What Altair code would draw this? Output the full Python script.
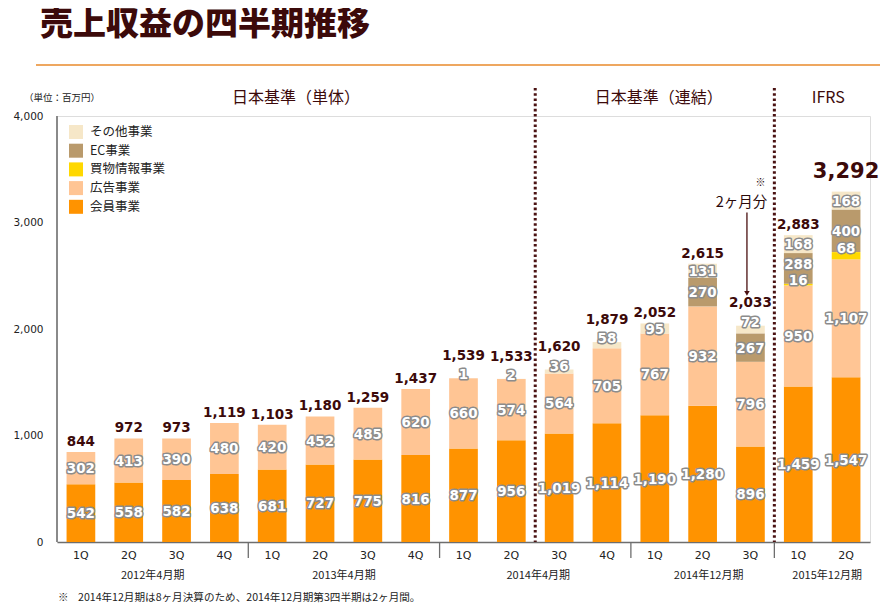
import altair as alt
import pandas as pd

# ---- data ----
periods = ["2012年4月期"] * 4 + ["2013年4月期"] * 4 + ["2014年4月期"] * 4 + ["2014年12月期"] * 3 + ["2015年12月期"] * 2
quarters = ["1Q", "2Q", "3Q", "4Q", "1Q", "2Q", "3Q", "4Q", "1Q", "2Q", "3Q", "4Q", "1Q", "2Q", "3Q", "1Q", "2Q"]
kaiin = [542, 558, 582, 638, 681, 727, 775, 816, 877, 956, 1019, 1114, 1190, 1280, 896, 1459, 1547]
koukoku = [302, 413, 390, 480, 420, 452, 485, 620, 660, 574, 564, 705, 767, 932, 796, 950, 1107]
kaimono = [0] * 15 + [16, 68]
ec = [0] * 13 + [270, 267, 288, 400]
sonota = [0] * 8 + [1, 2, 36, 58, 95, 131, 72, 168, 168]
totals = [844, 972, 973, 1119, 1103, 1180, 1259, 1437, 1539, 1533, 1620, 1879, 2052, 2615, 2033, 2883, 3292]
y_ticks = [0, 1000, 2000, 3000, 4000]

biz_names = ["会員事業", "広告事業", "買物情報事業", "EC事業", "その他事業"]
biz_colors = ["#ff9300", "#ffc594", "#ffd800", "#b99a6c", "#f6e7c8"]
legend_order = ["その他事業", "EC事業", "買物情報事業", "広告事業", "会員事業"]

sections = ["日本基準（単体）", "日本基準（連結）", "IFRS"]
period_names = ["2012年4月期", "2013年4月期", "2014年4月期", "2014年12月期", "2015年12月期"]
note_text = "2014年12月期は8ヶ月決算のため、2014年12月期第3四半期は2ヶ月間。"

cats = [f"{p}|{q}" for p, q in zip(periods, quarters)]

W, H = 813, 426
STEP = W / len(cats)
PX = 4000 / H  # data units per pixel
DARK = "#3c0a0a"
NUM_FONT = "DejaVu Sans"
JP_FONT = "Noto Sans CJK JP"

# ---- derived tables ----
rows = []
series = [kaiin, koukoku, kaimono, ec, sonota]
for i, c in enumerate(cats):
    base = 0
    prev_lab = -1e9
    for k, name in enumerate(biz_names):
        v = series[k][i]
        if v > 0:
            want = base + v + 4 * PX if v < 80 else base + v / 2
            lab = max(want, prev_lab + 16 * PX)
            prev_lab = lab
            rows.append({"cat": c, "biz": name, "ord": k, "v": v, "y0": base, "y1": base + v, "lab": lab})
        base += v
seg = pd.DataFrame(rows)

tot_rows = []
for i, c in enumerate(cats):
    if i == len(cats) - 1:
        grp = "big"
    elif 0 < sonota[i] < 80:
        grp = "lifted"
    else:
        grp = "normal"
    tot_rows.append({"cat": c, "total": totals[i], "grp": grp})
tot = pd.DataFrame(tot_rows)

x_scale = alt.Scale(domain=cats, paddingInner=0.4, paddingOuter=0.2)
x_axis = alt.Axis(labelExpr="split(datum.label, '|')[1]", labelAngle=0, ticks=False,
                  domainColor="#6e6e6e", domainWidth=1.3, labelPadding=7, labelFontSize=11,
                  labelFont=NUM_FONT, labelColor="#222", title=None)
X = alt.X("cat:N", scale=x_scale, axis=x_axis, title=None)
y_scale = alt.Scale(domain=[0, 4000], nice=False)
Y_axis = alt.Axis(values=y_ticks, labelExpr="format(datum.value, ',')", ticks=False, grid=False,
                  domain=False, labelPadding=14, labelFontSize=10.5,
                  labelFont=NUM_FONT, labelColor="#222", title=None)


def Yv(f):
    return alt.Y(f, scale=y_scale, axis=Y_axis, title=None)


bars = alt.Chart(seg).mark_bar().encode(
    x=X,
    y=Yv("y1:Q"),
    y2="y0:Q",
    color=alt.Color("biz:N", scale=alt.Scale(domain=legend_order,
                                             range=[biz_colors[biz_names.index(n)] for n in legend_order]),
                    legend=alt.Legend(orient="none", legendX=12, legendY=9, title=None,
                                      symbolType="square", symbolSize=196, symbolStrokeWidth=0,
                                      labelFontSize=12.5, labelFont=JP_FONT, labelColor="#222",
                                      rowPadding=4.7, labelOffset=7, padding=0)),
)

one = pd.DataFrame({"k": [0]})
y_domain = alt.Chart(one).mark_rule(color="#8a8a8a", strokeWidth=2).encode(
    x=alt.value(0), y=alt.value(0), y2=alt.value(H))

lab_out = alt.Chart(seg).mark_text(font=NUM_FONT, fontWeight="bold", fontSize=13.5, baseline="middle",
                                   dy=1, stroke="#8c8c8c", strokeWidth=3, strokeJoin="round",
                                   fill="#8c8c8c").encode(
    x=X, y=Yv("lab:Q"), text=alt.Text("v:Q", format=","))
lab_in = alt.Chart(seg).mark_text(font=NUM_FONT, fontWeight="bold", fontSize=13.5, baseline="middle",
                                  dy=1, fill="white").encode(
    x=X, y=Yv("lab:Q"), text=alt.Text("v:Q", format=","))


def tot_layer(g, size, dy):
    return alt.Chart(tot[tot["grp"] == g]).mark_text(font=NUM_FONT, fontWeight="bold", fontSize=size,
                                                     baseline="middle", dy=dy, color=DARK).encode(
        x=X, y=Yv("total:Q"), text=alt.Text("total:Q", format=","))


tot_norm = tot_layer("normal", 13.5, -10)
tot_lift = tot_layer("lifted", 13.5, -22)
tot_big = tot_layer("big", 21, -19)

# dotted separators between accounting standards
dots = []
for c in ["2014年4月期|3Q", "2015年12月期|1Q"]:
    dots.append(alt.Chart(pd.DataFrame({"cat": [c]})).mark_rule(
        xOffset=-STEP / 2, color="#4a1212", strokeWidth=3, strokeDash=[2.6, 2.6]).encode(
        x=X, y=alt.value(-28), y2=alt.value(H)))

# period separator ticks below axis
seps = []
for c in ["2013年4月期|1Q", "2014年4月期|1Q", "2014年12月期|1Q", "2015年12月期|1Q"]:
    seps.append(alt.Chart(pd.DataFrame({"cat": [c]})).mark_rule(
        xOffset=-STEP / 2, color="#6e6e6e", strokeWidth=1.3).encode(
        x=X, y=alt.value(H), y2=alt.value(H + 16)))

# period labels
per_layers = []
for name, anchor, off in zip(period_names,
                             ["2012年4月期|2Q", "2013年4月期|2Q", "2014年4月期|2Q", "2014年12月期|2Q", "2015年12月期|1Q"],
                             [STEP / 2, STEP / 2, STEP / 2 + 3, 6, STEP / 2 + 5]):
    per_layers.append(alt.Chart(pd.DataFrame({"cat": [anchor], "t": [name]})).mark_text(
        font=JP_FONT, fontSize=11, color="#222", baseline="middle", xOffset=off).encode(
        x=X, y=alt.value(H + 34), text="t:N"))

# section headers
sec_layers = []
for name, anchor, off in zip(sections, ["2013年4月期|1Q", "2014年12月期|1Q", "2015年12月期|1Q"],
                             [STEP / 2, 4, STEP / 2 + 6]):
    sec_layers.append(alt.Chart(pd.DataFrame({"cat": [anchor], "t": [name]})).mark_text(
        font=JP_FONT, fontSize=16, color=DARK, baseline="middle", xOffset=off).encode(
        x=X, y=alt.value(-18), text="t:N"))

# annotation "2ヶ月分" with arrow
ann_cat = "2014年12月期|3Q"
ann_df = pd.DataFrame({"cat": [ann_cat]})
ann_text = alt.Chart(pd.DataFrame({"cat": [ann_cat], "t": ["2ヶ月分"]})).mark_text(
    font=JP_FONT, fontSize=14.5, color="#2a0a0a", baseline="middle", xOffset=-9).encode(
    x=X, y=Yv("v:Q"), text="t:N").transform_calculate(v="3183")
ann_mark = alt.Chart(pd.DataFrame({"cat": [ann_cat], "t": ["※"]})).mark_text(
    font=JP_FONT, fontSize=10, color="#2a0a0a", baseline="middle", xOffset=10).encode(
    x=X, y=Yv("v:Q"), text="t:N").transform_calculate(v="3370")
arrow = alt.Chart(ann_df).mark_rule(color="#4a1010", strokeWidth=1.3, xOffset=-3.5).encode(
    x=X, y=Yv("a:Q"), y2="b:Q").transform_calculate(a="3095", b="2330")
arrow_head = alt.Chart(ann_df).mark_point(shape="triangle-down", filled=True, size=30, color="#4a1010",
                                          opacity=1, xOffset=-3.5).encode(
    x=X, y=Yv("b:Q")).transform_calculate(b="2335")

title = alt.Chart(one).mark_text(text="売上収益の四半期推移", font=JP_FONT, fontSize=33, fontWeight=900,
                                 color=DARK, align="left", baseline="middle").encode(
    x=alt.value(-17), y=alt.value(-91))
orange_line = alt.Chart(one).mark_rule(color="#e98a2b", strokeWidth=1.5).encode(
    x=alt.value(-21), x2=alt.value(823), y=alt.value(-51))
unit = alt.Chart(one).mark_text(text="（単位：百万円）", font=JP_FONT, fontSize=9.5, color="#222",
                                align="left", baseline="middle").encode(
    x=alt.value(-33), y=alt.value(-18))
note_mark = alt.Chart(one).mark_text(text="※", font=JP_FONT, fontSize=10.5, color="#222",
                                     align="left", baseline="middle").encode(
    x=alt.value(1), y=alt.value(H + 56))
note = alt.Chart(one).mark_text(text=note_text, font=JP_FONT, fontSize=10.6, color="#222",
                                align="left", baseline="middle").encode(
    x=alt.value(21), y=alt.value(H + 56))

chart = alt.layer(
    bars, y_domain, *dots, *seps, lab_out, lab_in, tot_norm, tot_lift, tot_big,
    *per_layers, *sec_layers, ann_text, ann_mark, arrow, arrow_head,
    title, orange_line, unit, note_mark, note,
).properties(
    width=W, height=H,
    padding={"left": 49, "top": 108, "right": 10, "bottom": 62},
    autosize=alt.AutoSizeParams(type="none"),
).configure_view(stroke=None).configure(background="white")

chart.save("out.html", embed_options={"renderer": "svg", "actions": False})
